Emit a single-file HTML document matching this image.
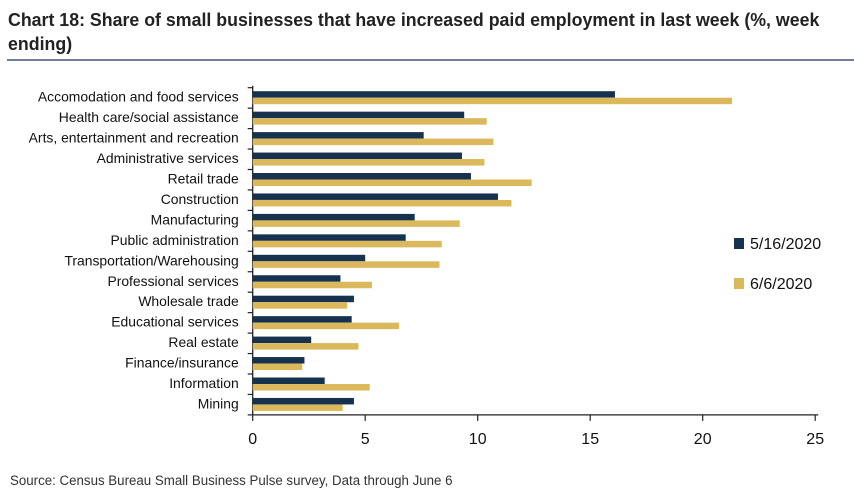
<!DOCTYPE html>
<html><head><meta charset="utf-8"><style>
body{margin:0;width:854px;height:502px;background:#fff;font-family:"Liberation Sans",sans-serif;overflow:hidden;position:relative}
.title{position:absolute;left:8px;top:8px;font-size:18.5px;font-weight:bold;color:#222;line-height:24px;transform:scaleX(0.96);transform-origin:left top;width:960px}
.rule{position:absolute;left:7px;top:59px;width:847px;height:2px;background:#6d7f93}
.src{position:absolute;left:10px;top:473px;font-size:13.5px;color:#333;transform:scaleX(0.985);transform-origin:left top;white-space:nowrap}
</style></head><body>
<div class="title">Chart 18: Share of small businesses that have increased paid employment in last week (%, week<br>ending)</div>
<div class="rule"></div>
<svg id="chart" width="854" height="502" style="position:absolute;left:0;top:0"></svg>
<div class="src">Source: Census Bureau Small Business Pulse survey, Data through June 6</div>
<script>
const categories=["Accomodation and food services","Health care/social assistance","Arts, entertainment and recreation","Administrative services","Retail trade","Construction","Manufacturing","Public administration","Transportation/Warehousing","Professional services","Wholesale trade","Educational services","Real estate","Finance/insurance","Information","Mining"];
const may16=[16.1,9.4,7.6,9.3,9.7,10.9,7.2,6.8,5.0,3.9,4.5,4.4,2.6,2.3,3.2,4.5];
const jun6=[21.3,10.4,10.7,10.3,12.4,11.5,9.2,8.4,8.3,5.3,4.2,6.5,4.7,2.2,5.2,4.0];
const ticks=[0,5,10,15,20,25];
const seriesNames=["5/16/2020","6/6/2020"];
const colors=["#17324f","#dcb85c"];
const NS="http://www.w3.org/2000/svg";
const svg=document.getElementById('chart');
const x0=252.7,xs=22.5,top0=87.7,step=20.45;
const X=v=>x0+v*xs;
const Y=i=>top0+i*step;
function mk(t,a){const e=document.createElementNS(NS,t);for(const k in a)e.setAttribute(k,a[k]);svg.appendChild(e);return e;}
const axisY=top0+categories.length*step;
let l=mk('line',{x1:x0,y1:top0-2,x2:x0,y2:axisY,stroke:'#222','stroke-width':1.3});


l=mk('line',{x1:x0,y1:axisY,x2:X(25)+3,y2:axisY,stroke:'#222','stroke-width':1.3});


for(let i=0;i<=categories.length;i++){mk('line',{x1:x0-5,y1:Y(i),x2:x0,y2:Y(i),stroke:'#222','stroke-width':1.2});}
categories.forEach((c,i)=>{
 let t=mk('text',{x:x0-14,y:Y(i)+14,'text-anchor':'end','font-size':13.9,fill:'#111'});
 t.textContent=c;
 
 
 let b=mk('rect',{x:x0,y:Y(i)+3.5,width:X(may16[i])-x0,height:6.5,fill:colors[0]});
 
 
 b=mk('rect',{x:x0,y:Y(i)+10,width:X(jun6[i])-x0,height:6.5,fill:colors[1]});
 
 
});
ticks.forEach(v=>{
 mk('line',{x1:X(v),y1:axisY,x2:X(v),y2:axisY+6,stroke:'#222','stroke-width':1.2});
 let t=mk('text',{x:X(v),y:axisY+29,'text-anchor':'middle','font-size':16,fill:'#111'});
 t.textContent=v;
 
 
});
seriesNames.forEach((n,i)=>{
 let r=mk('rect',{x:734,y:238+i*40,width:10,height:11,fill:colors[i]});
 
 
 let t=mk('text',{x:750,y:249+i*40,'font-size':16,fill:'#111'});
 t.textContent=n;
 
 
});
</script>
</body></html>
